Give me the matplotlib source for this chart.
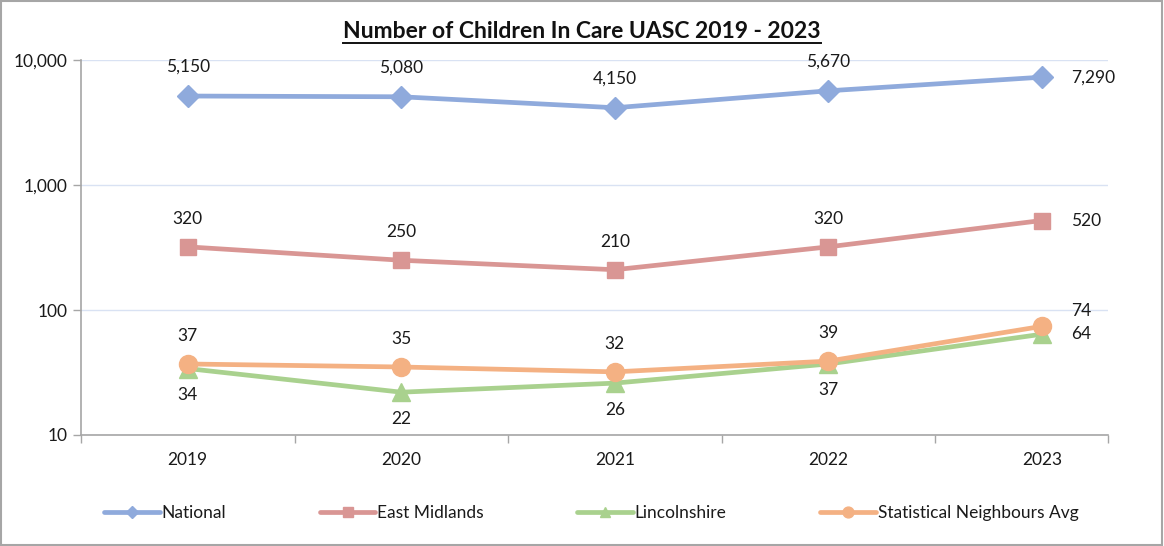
import matplotlib
matplotlib.use("Agg")
import matplotlib.pyplot as plt
from matplotlib.lines import Line2D
from matplotlib.patches import Rectangle
from matplotlib.ticker import FixedLocator, FuncFormatter

plt.rcParams['font.family'] = ['Lato', 'DejaVu Sans']

# children in care, UASC
years = ['2019', '2020', '2021', '2022', '2023']
national = [5150, 5080, 4150, 5670, 7290]
east_midlands = [320, 250, 210, 320, 520]
lincolnshire = [34, 22, 26, 37, 64]
stat_neighbours = [37, 35, 32, 39, 74]

fig = plt.figure(figsize=(11.64, 5.46), dpi=100)
ax = fig.add_axes([0.0696, 0.2033, 0.8823, 0.6868])

x = list(range(len(years)))

series = [
    ('National', national, '#8faadc', 'D', 11),
    ('East Midlands', east_midlands, '#d99694', 's', 12),
    ('Lincolnshire', lincolnshire, '#a9d18e', '^', 13),
    ('Statistical Neighbours Avg', stat_neighbours, '#f4b183', 'o', 13),
]
for name, vals, col, mk, ms in series:
    ax.plot(x, vals, color=col, lw=3.4, marker=mk, markersize=ms, label=name,
            solid_capstyle='round', zorder=3)

ax.set_yscale('log')
ax.set_ylim(10, 10000)
ax.set_xlim(-0.5, 4.31)

fs = 12.5
# data labels
def lab(xi, v, dx, dy, ha='center'):
    ax.annotate(f'{v:,}', (xi, v), xytext=(dx, dy), textcoords='offset points',
                ha=ha, va='center', fontsize=fs, color='#1a1a1a')

for i, v in enumerate(national):
    if i < 4:
        lab(i, v, 0, 21)
    else:
        lab(i, v, 21, 0, 'left')
for i, v in enumerate(east_midlands):
    if i < 4:
        lab(i, v, 0, 20)
    else:
        lab(i, v, 21, 0, 'left')
for i, v in enumerate(stat_neighbours):
    if i < 4:
        lab(i, v, 0, 20)
    else:
        lab(i, v, 21, 11, 'left')
for i, v in enumerate(lincolnshire):
    if i < 4:
        lab(i, v, 0, -19)
    else:
        lab(i, v, 21, 0, 'left')

# axes styling
ax.yaxis.set_major_locator(FixedLocator([10, 100, 1000, 10000]))
ax.yaxis.set_minor_locator(FixedLocator([]))
ax.yaxis.set_major_formatter(FuncFormatter(lambda v, p: f'{int(v):,}'))
ax.grid(axis='y', color='#d9e2f3', lw=1, zorder=0)
ax.set_xticks(x)
ax.set_xticklabels(years)
ax.set_xticks([-0.5, 0.5, 1.5, 2.5, 3.5, 4.31], minor=True)
ax.tick_params(axis='x', which='major', length=0, pad=12, labelsize=fs, colors='#1a1a1a')
ax.tick_params(axis='x', which='minor', length=6, color='#a6a6a6', width=1)
ax.tick_params(axis='y', length=6, color='#a6a6a6', width=1, labelsize=fs,
               colors='#1a1a1a', pad=4)
for s in ['top', 'right']:
    ax.spines[s].set_visible(False)
for s in ['left', 'bottom']:
    ax.spines[s].set_color('#a6a6a6')
    ax.spines[s].set_linewidth(1.2)

# title with underline
t = fig.text(0.5, 0.943, 'Number of Children In Care UASC 2019 - 2023', ha='center',
             va='center', fontsize=16.5, fontweight='bold', color='#111111')
fig.canvas.draw()
bb = t.get_window_extent().transformed(fig.transFigure.inverted())
fig.add_artist(Line2D([bb.x0, bb.x1], [bb.y0 - 0.003, bb.y0 - 0.003], color='#111111',
                      lw=1.4, transform=fig.transFigure))

leg = fig.legend(loc='center', bbox_to_anchor=(0.508, 0.06), ncol=4, frameon=False,
                 fontsize=fs, handlelength=3.2, columnspacing=5.4, markerscale=0.6,
                 handletextpad=0.1, labelcolor='#1a1a1a')

# outer border
fig.add_artist(Rectangle((0.001, 0.002), 0.997, 0.996, transform=fig.transFigure,
                         fill=False, edgecolor='#a6a6a6', lw=1.5))

fig.savefig('out.png', dpi=100)
